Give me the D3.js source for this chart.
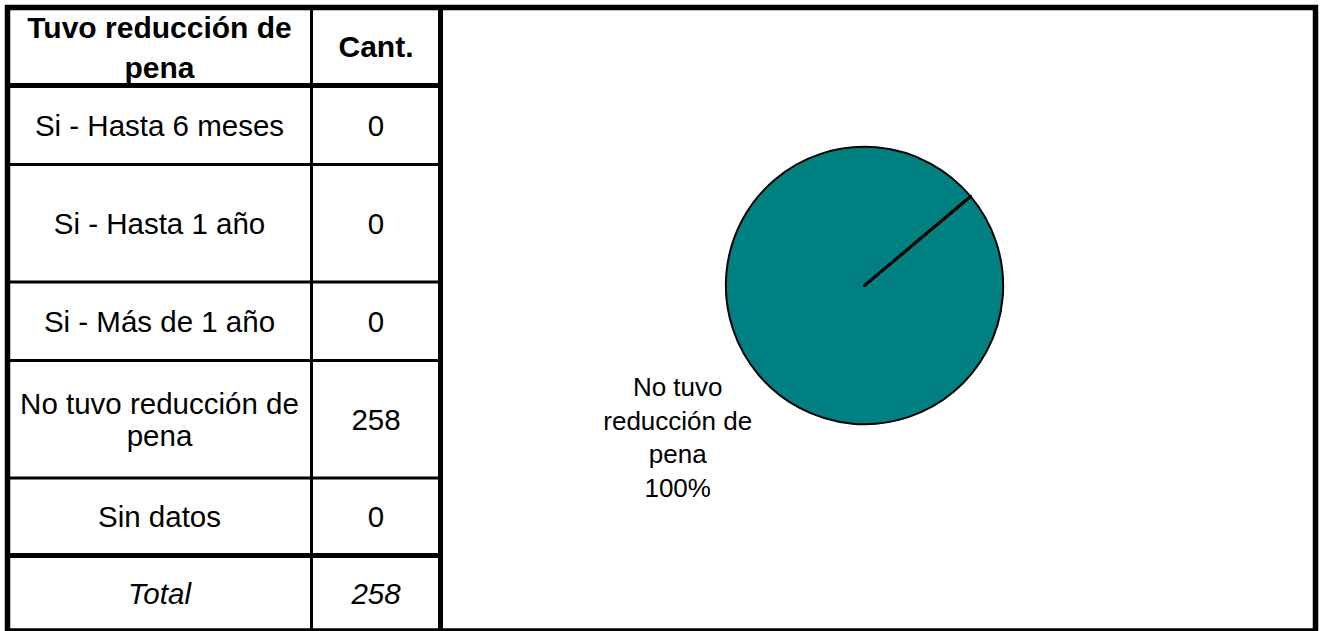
<!DOCTYPE html>
<html>
<head>
<meta charset="utf-8">
<script src="https://cdn.jsdelivr.net/npm/d3@7"></script>
<style>
  html, body { margin: 0; padding: 0; background: #ffffff; }
  svg { display: block; }
  text { font-family: "Liberation Sans", Arial, sans-serif; fill: #000; }
</style>
</head>
<body>
<svg id="chart" width="1324" height="631"></svg>
<script>
// ---- data ----
const headerLabels = ["Tuvo reducción de pena", "Cant."];
const categories = ["Si - Hasta 6 meses", "Si - Hasta 1 año", "Si - Más de 1 año", "No tuvo reducción de pena", "Sin datos"];
const values = [0, 0, 0, 258, 0];
const totalLabel = "Total";
const sliceColors = ["#008080", "#008080", "#008080", "#008080", "#008080"];

// ---- layout ----
const W = 1324, H = 631;
const svg = d3.select("#chart");
const FONT = '"Liberation Sans", Arial, sans-serif';

const colX = [7.5, 311.5, 440.5];          // column edges (line centres)
const frameRight = 1315.5;
const rowEdges = [7.5, 85.5, 164.5, 282, 360.5, 478, 555.5, 630.5]; // header, 5 rows, total

const ctx = document.createElement("canvas").getContext("2d");
function measure(t, size, weight, style) {
  ctx.font = `${style || "normal"} ${weight || "normal"} ${size}px ${FONT}`;
  return ctx.measureText(t).width;
}
function wrap(t, maxW, size, weight, style) {
  const words = t.split(" ");
  const lines = [];
  let cur = "";
  words.forEach(w => {
    const test = cur ? cur + " " + w : w;
    if (cur && measure(test, size, weight, style) > maxW) { lines.push(cur); cur = w; }
    else cur = test;
  });
  if (cur) lines.push(cur);
  return lines;
}

// cell text: multi-line centred block
function cellText(txt, cx, y0, y1, size, weight, style, lineH, maxW) {
  const lines = wrap(txt, maxW, size, weight, style);
  const capH = 0.716 * size;
  const mid = (y0 + y1) / 2;
  const first = mid - (lines.length - 1) * lineH / 2 + capH / 2;
  const t = svg.append("text")
    .attr("text-anchor", "middle")
    .attr("font-size", size)
    .attr("font-weight", weight || "normal")
    .attr("font-style", style || "normal");
  lines.forEach((l, i) => {
    t.append("tspan").attr("x", cx).attr("y", first + i * lineH).text(l);
  });
}

const c1 = (colX[0] + colX[1]) / 2, c2 = (colX[1] + colX[2]) / 2;

// header
cellText(headerLabels[0], c1, rowEdges[0], rowEdges[1] + 2, 30, "bold", "normal", 40, 292);
cellText(headerLabels[1], c2, rowEdges[0], rowEdges[1], 30, "bold", "normal", 40, 120);

// body rows
categories.forEach((c, i) => {
  const y0 = rowEdges[i + 1], y1 = rowEdges[i + 2];
  cellText(c, c1, y0, y1, 29.5, "normal", "normal", 32, 292);
  cellText(String(values[i]), c2, y0, y1, 29.5, "normal", "normal", 32, 120);
});

// total row
const total = d3.sum(values);
cellText(totalLabel, c1, rowEdges[6], rowEdges[7], 29.5, "normal", "italic", 32, 292);
cellText(String(total), c2, rowEdges[6], rowEdges[7], 29.5, "normal", "italic", 32, 120);

// ---- grid lines ----
const g = svg.append("g").attr("stroke", "#000").attr("fill", "none");
[2, 3, 4, 5].forEach(k => {
  g.append("line").attr("x1", colX[0]).attr("x2", colX[2])
    .attr("y1", rowEdges[k]).attr("y2", rowEdges[k]).attr("stroke-width", 3);
});
[1, 6].forEach(k => {
  g.append("line").attr("x1", colX[0]).attr("x2", colX[2])
    .attr("y1", rowEdges[k]).attr("y2", rowEdges[k]).attr("stroke-width", 5);
});
g.append("line").attr("x1", colX[1]).attr("x2", colX[1])
  .attr("y1", rowEdges[0]).attr("y2", H).attr("stroke-width", 3);
g.append("line").attr("x1", colX[2]).attr("x2", colX[2])
  .attr("y1", rowEdges[0]).attr("y2", H).attr("stroke-width", 5);
g.append("rect").attr("x", colX[0]).attr("y", rowEdges[0])
  .attr("width", frameRight - colX[0]).attr("height", 623.5)
  .attr("stroke-width", 5.5);

// ---- pie ----
const pieCx = 864.5, pieCy = 285.5, R = 138.5;
const startDeg = 50;
const pie = d3.pie().sort(null).value(d => d)
  .startAngle(startDeg * Math.PI / 180)
  .endAngle(startDeg * Math.PI / 180 + 2 * Math.PI);
const arcs = pie(values);
const arc = d3.arc().innerRadius(0).outerRadius(R);
const pg = svg.append("g").attr("transform", `translate(${pieCx},${pieCy})`);
pg.selectAll("path.slice").data(arcs.filter(a => a.value > 0)).join("path")
  .attr("class", "slice")
  .attr("d", arc)
  .attr("fill", d => sliceColors[d.index])
  .attr("stroke", "#000").attr("stroke-width", 2);
pg.selectAll("line.edge").data(arcs).join("line")
  .attr("class", "edge")
  .attr("x1", 0).attr("y1", 0)
  .attr("x2", d => R * Math.sin(d.startAngle))
  .attr("y2", d => -R * Math.cos(d.startAngle))
  .attr("stroke", "#000").attr("stroke-width", 2.5)
  .attr("stroke-linecap", "round");

// data labels
const labelR = 236, labelDx = -6;
arcs.filter(a => a.value > 0).forEach(a => {
  const mid = (a.startAngle + a.endAngle) / 2;
  const lx = pieCx + labelR * Math.sin(mid) + labelDx;
  const ly = pieCy - labelR * Math.cos(mid);
  const pct = d3.format(".0%")(a.value / total);
  const size = 26, lh = 33.5;
  const lines = wrap(categories[a.index], 165, size).concat([pct]);
  const first = ly - (lines.length - 1) * lh / 2 + 0.716 * size / 2;
  const t = svg.append("text").attr("text-anchor", "middle").attr("font-size", size);
  lines.forEach((l, i) => t.append("tspan").attr("x", lx).attr("y", first + i * lh).text(l));
});
</script>
</body>
</html>
